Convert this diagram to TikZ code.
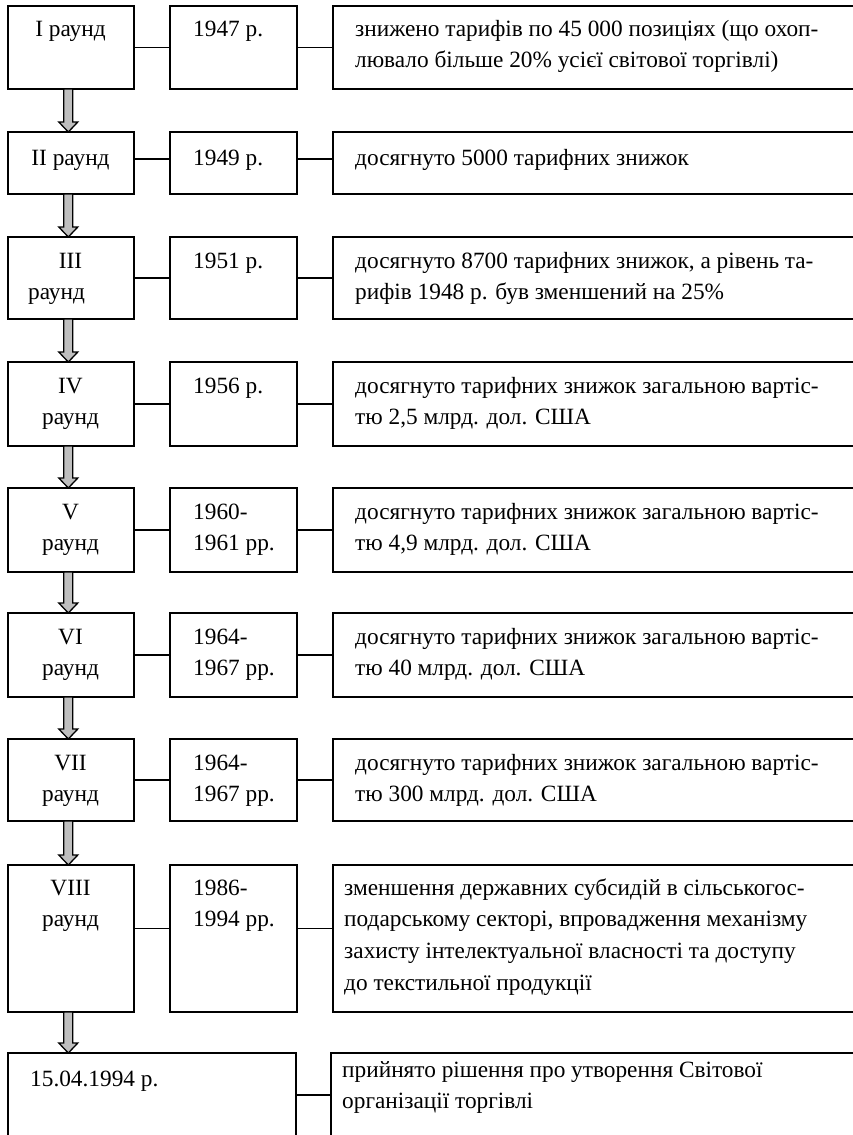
\documentclass[tikz,border=0pt]{standalone}
\usepackage{fontspec}
\setmainfont{Liberation Serif}
\usetikzlibrary{calc, positioning}

\begin{document}
\begin{tikzpicture}[
    x=1pt, y=-1pt,
    box/.style={rectangle, draw, line width=2pt, outer sep=0pt, inner sep=0pt},
    round/.style={box, minimum width=126pt},
    year/.style={box, minimum width=127pt},
    result/.style={box, minimum width=560pt},
    lbl/.style={inner sep=0pt, font=\fontsize{23.3}{31.7}\selectfont},
    link/.style={line width=1.8pt},
    blockarrow/.style={draw, line width=1.3pt, fill=gray!50, line join=miter}
]

    \useasboundingbox (0,0) rectangle (853,1135);
    \clip (0,0) rectangle (853,1135);

    % Nodes ------------------------------------------------------

    \node[round, minimum height=83pt, anchor=north west] (r1) at (7.5,6) {};
    \node[year, minimum height=83pt, right=36.5pt of r1] (y1) {};
    \node[result, minimum height=83pt, right=36pt of y1] (t1) {};

    \node[round, minimum height=62pt, anchor=north west] (r2) at (7.5,132) {};
    \node[year, minimum height=62pt, right=36.5pt of r2] (y2) {};
    \node[result, minimum height=62pt, right=36pt of y2] (t2) {};

    \node[round, minimum height=82pt, anchor=north west] (r3) at (7.5,237) {};
    \node[year, minimum height=82pt, right=36.5pt of r3] (y3) {};
    \node[result, minimum height=82pt, right=36pt of y3] (t3) {};

    \node[round, minimum height=84pt, anchor=north west] (r4) at (7.5,362) {};
    \node[year, minimum height=84pt, right=36.5pt of r4] (y4) {};
    \node[result, minimum height=84pt, right=36pt of y4] (t4) {};

    \node[round, minimum height=84pt, anchor=north west] (r5) at (7.5,488) {};
    \node[year, minimum height=84pt, right=36.5pt of r5] (y5) {};
    \node[result, minimum height=84pt, right=36pt of y5] (t5) {};

    \node[round, minimum height=84pt, anchor=north west] (r6) at (7.5,613) {};
    \node[year, minimum height=84pt, right=36.5pt of r6] (y6) {};
    \node[result, minimum height=84pt, right=36pt of y6] (t6) {};

    \node[round, minimum height=82pt, anchor=north west] (r7) at (7.5,739) {};
    \node[year, minimum height=82pt, right=36.5pt of r7] (y7) {};
    \node[result, minimum height=82pt, right=36pt of y7] (t7) {};

    \node[round, minimum height=147pt, anchor=north west] (r8) at (7.5,865) {};
    \node[year, minimum height=147pt, right=36.5pt of r8] (y8) {};
    \node[result, minimum height=147pt, right=36pt of y8] (t8) {};

    \node[box, minimum width=288.5pt, minimum height=100pt, anchor=north west] (r9) at (7.5,1053) {};
    \node[result, minimum height=100pt, right=35pt of r9] (t9) {};

    % labels
    \node[lbl, align=center, below=7.8pt of r1.north] (r1_label) {\strut I раунд};
    \node[lbl, align=center, below=10.8pt of r2.north] (r2_label) {\strut II раунд};
    \node[lbl, align=center, below=8.8pt of r3.north] (r3_label) {\strut III\\раунд\hspace*{28pt}};
    \node[lbl, align=center, below=8.8pt of r4.north] (r4_label) {\strut IV\\раунд};
    \node[lbl, align=center, below=8.8pt of r5.north] (r5_label) {\strut V\\раунд};
    \node[lbl, align=center, below=8.8pt of r6.north] (r6_label) {\strut VI\\раунд};
    \node[lbl, align=center, below=8.8pt of r7.north] (r7_label) {\strut VII\\раунд};
    \node[lbl, align=center, below=7.8pt of r8.north] (r8_label) {\strut VIII\\раунд};
    \node[lbl, align=left, below right=10.8pt and 22.5pt of r9.north west] (r9_label) {\strut 15.04.1994 р.};

    \node[lbl, align=left, below right=7.8pt and 23pt of y1.north west] (y1_label) {\strut 1947 р.};
    \node[lbl, align=left, below right=10.8pt and 23pt of y2.north west] (y2_label) {\strut 1949 р.};
    \node[lbl, align=left, below right=8.8pt and 23pt of y3.north west] (y3_label) {\strut 1951 р.};
    \node[lbl, align=left, below right=8.8pt and 23pt of y4.north west] (y4_label) {\strut 1956 р.};
    \node[lbl, align=left, below right=8.8pt and 23pt of y5.north west] (y5_label) {\strut 1960-\\1961 рр.};
    \node[lbl, align=left, below right=8.8pt and 23pt of y6.north west] (y6_label) {\strut 1964-\\1967 рр.};
    \node[lbl, align=left, below right=8.8pt and 23pt of y7.north west] (y7_label) {\strut 1964-\\1967 рр.};
    \node[lbl, align=left, below right=7.8pt and 23pt of y8.north west] (y8_label) {\strut 1986-\\1994 рр.};

    \node[lbl, align=left, below right=7.8pt and 22pt of t1.north west] (t1_label)
        {\strut знижено тарифів по 45 000 позиціях (що охоп-\\лювало більше 20\% усієї світової торгівлі)};
    \node[lbl, align=left, below right=10.8pt and 22pt of t2.north west] (t2_label)
        {\strut досягнуто 5000 тарифних знижок};
    \node[lbl, align=left, below right=8.8pt and 22pt of t3.north west] (t3_label)
        {\strut досягнуто 8700 тарифних знижок, а рівень та-\\рифів 1948 р. був зменшений на 25\%};
    \node[lbl, align=left, below right=8.8pt and 22pt of t4.north west] (t4_label)
        {\strut досягнуто тарифних знижок загальною вартіс-\\тю 2,5 млрд. дол. США};
    \node[lbl, align=left, below right=8.8pt and 22pt of t5.north west] (t5_label)
        {\strut досягнуто тарифних знижок загальною вартіс-\\тю 4,9 млрд. дол. США};
    \node[lbl, align=left, below right=8.8pt and 22pt of t6.north west] (t6_label)
        {\strut досягнуто тарифних знижок загальною вартіс-\\тю 40 млрд. дол. США};
    \node[lbl, align=left, below right=8.8pt and 22pt of t7.north west] (t7_label)
        {\strut досягнуто тарифних знижок загальною вартіс-\\тю 300 млрд. дол. США};
    \node[lbl, align=left, below right=7.8pt and 11pt of t8.north west] (t8_label)
        {\strut зменшення державних субсидій в сільськогос-\\подарському секторі, впровадження механізму\\захисту інтелектуальної власності та доступу\\до текстильної продукції};
    \node[lbl, align=left, below right=1.8pt and 11pt of t9.north west] (t9_label)
        {\strut прийнято рішення про утворення Світової\\організації торгівлі};

    % Connectors -------------------------------------------------

    \foreach \i in {1,3,4,5,6,7} {
        \draw[link] (r\i) -- (y\i);
        \draw[link] (y\i) -- (t\i);
    }
    \draw[link] ([yshift=4pt]r2.east) -- ([yshift=4pt]y2.west);
    \draw[link] ([yshift=4pt]y2.east) -- ([yshift=4pt]t2.west);
    \draw[link] ([yshift=10pt]r8.east) -- ([yshift=10pt]y8.west);
    \draw[link] ([yshift=10pt]y8.east) -- ([yshift=10pt]t8.west);
    \draw[link] ([yshift=8pt]r9.east) -- ([yshift=8pt]t9.west);

    % Arrows ---------------------------------------------------

    \foreach \a/\b in {r1/r2, r2/r3, r3/r4, r4/r5, r5/r6, r6/r7, r7/r8, r8/r9}
        \draw[blockarrow] let \p1=(\a.south), \p2=(\b.north) in
            (\x1-6.7pt,\y1) -- (\x1+2.3pt,\y1) -- (\x1+2.3pt,\y2+10pt)
            -- (\x1+7.3pt,\y2+10pt) -- (\x1-2.2pt,\y2) -- (\x1-11.7pt,\y2+10pt)
            -- (\x1-6.7pt,\y2+10pt) -- cycle;

\end{tikzpicture}
\end{document}
